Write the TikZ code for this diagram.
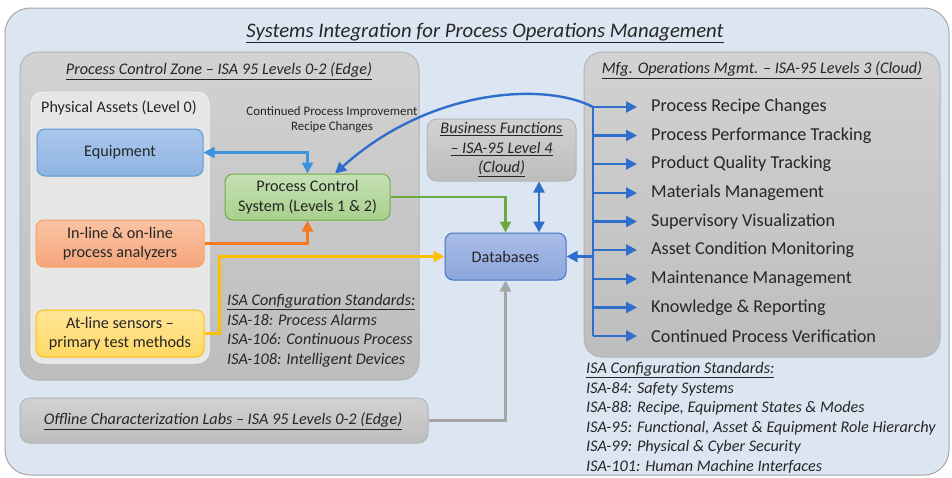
\documentclass[tikz,border=0pt]{standalone}
\usepackage{fontspec}
\setmainfont{Carlito}
\usetikzlibrary{arrows.meta,calc}

\definecolor{bgblue}{HTML}{DCE6F2}
\definecolor{frame}{HTML}{A6A6A6}
\definecolor{zonetop}{HTML}{D2D2D2}
\definecolor{zonebot}{HTML}{BDBDBD}
\definecolor{zoneedge}{HTML}{B4B4B4}
\definecolor{assetfill}{HTML}{E6E6E6}
\definecolor{assetedge}{HTML}{F2F2F2}
\definecolor{eqtop}{HTML}{ABC7EE}
\definecolor{eqbot}{HTML}{8EB3E2}
\definecolor{eqedge}{HTML}{5B9BD5}
\definecolor{ortop}{HTML}{FAC3A3}
\definecolor{orbot}{HTML}{F5A67C}
\definecolor{oredge}{HTML}{F4A264}
\definecolor{yetop}{HTML}{FFE597}
\definecolor{yebot}{HTML}{FFD966}
\definecolor{yeedge}{HTML}{FFC000}
\definecolor{grtop}{HTML}{C6E0B4}
\definecolor{grbot}{HTML}{A8D08D}
\definecolor{gredge}{HTML}{70AD47}
\definecolor{dbtop}{HTML}{A9BDE8}
\definecolor{dbbot}{HTML}{8CA5DC}
\definecolor{dbedge}{HTML}{4472C4}
\definecolor{busblue}{HTML}{2F6ECB}
\definecolor{eqarrow}{HTML}{3C94DC}
\definecolor{orarrow}{HTML}{F47A20}
\definecolor{yearrow}{HTML}{FFBE00}
\definecolor{grarrow}{HTML}{6AAA3E}
\definecolor{grayarrow}{HTML}{A6A6A6}
\definecolor{ink}{HTML}{262626}

\tikzset{
  panel/.style={draw=zoneedge, line width=1pt, top color=zonetop, bottom color=zonebot,
    rounded corners=18pt, inner sep=0pt},
  unit/.style={line width=1pt, rounded corners=8pt, align=center, text=ink,
    font=\fontsize{16.2}{19.5}\selectfont, inner sep=0pt},
  tip/.tip={Triangle[length=11pt,width=11pt]},
  conn/.style={line width=2.4pt, -tip},
  biconn/.style={line width=2.4pt, tip-tip},
  listitem/.style={anchor=west, inner sep=0pt, text=ink, font=\fontsize{18.2}{21}\selectfont},
  stdtext/.style={anchor=north west, inner sep=0pt, align=left, text=ink,
    font=\fontsize{16.2}{19.6}\selectfont\itshape},
  heading/.style={inner sep=0pt, text=ink, font=\fontsize{16.2}{19}\selectfont\itshape},
}

\begin{document}
\begin{tikzpicture}[x=1pt, y=-1pt]
\useasboundingbox (0,0) rectangle (952,477);

% outer frame
\node[draw=frame, line width=1pt, fill=bgblue, rounded corners=25pt,
  minimum width=944pt, minimum height=467pt] (outer) at (477,241.5) {};
\node[inner sep=0pt, text=ink, font=\fontsize{20.7}{24}\selectfont\itshape] (title) at (485,33)
  {\underline{Systems Integration for Process Operations Management}};

% process control zone
\node[panel, minimum width=399pt, minimum height=328pt] (zone) at (219.5,216) {};
\node[heading] (zonelbl) at (219,71) {\underline{Process Control Zone – ISA 95 Levels 0-2 (Edge)}};

% physical assets
\node[draw=assetedge, line width=1pt, fill=assetfill, rounded corners=12pt,
  minimum width=178pt, minimum height=271pt] (assets) at (120,227.5) {};
\node[inner sep=0pt, text=ink, font=\fontsize{16.1}{19}\selectfont] (assetlbl) at (119,108)
  {Physical Assets (Level 0)};

\node[unit, draw=eqedge, top color=eqtop, bottom color=eqbot,
  minimum width=166pt, minimum height=47pt] (equip) at (120,152.5) {Equipment};
\node[unit, draw=oredge, top color=ortop, bottom color=orbot,
  minimum width=168pt, minimum height=47pt] (inline) at (120,243.5)
  {In-line \& on-line\\process analyzers};
\node[unit, draw=yeedge, top color=yetop, bottom color=yebot,
  minimum width=168pt, minimum height=47pt] (atline) at (120,333.5)
  {At-line sensors –\\primary test methods};

% process control system
\node[unit, draw=gredge, top color=grtop, bottom color=grbot,
  minimum width=165pt, minimum height=46pt] (pcs) at (307.5,197)
  {Process Control\\System (Levels 1 \& 2)};
\node[inner sep=0pt, align=center, text=ink, font=\fontsize{12.9}{15}\selectfont] (cpi) at (332,119.5)
  {Continued Process Improvement\\Recipe Changes};

\node[stdtext] (stdleft) at (227,294)
  {\underline{ISA Configuration Standards:}\\
   ISA-18: Process Alarms\\
   ISA-106: Continuous Process\\
   ISA-108: Intelligent Devices};

% business functions and databases
\node[panel, rounded corners=10pt, align=center, text=ink,
  font=\fontsize{16.2}{19.5}\selectfont\itshape,
  minimum width=149pt, minimum height=62pt] (biz) at (501.5,150)
  {\underline{Business Functions}\\\underline{– ISA-95 Level 4}\\\underline{(Cloud)}};
\node[unit, draw=dbedge, top color=dbtop, bottom color=dbbot,
  minimum width=121pt, minimum height=47pt] (db) at (505.5,256.5) {Databases};

% manufacturing operations management
\node[panel, minimum width=356pt, minimum height=305pt] (mom) at (762,204.5) {};
\node[heading] (momlbl) at (762,70) {\underline{Mfg. Operations Mgmt. – ISA-95 Levels 3 (Cloud)}};

\foreach \name/\yy/\txt in {
  i1/107/{Process Recipe Changes},
  i2/135.5/{Process Performance Tracking},
  i3/164/{Product Quality Tracking},
  i4/193/{Materials Management},
  i5/221.5/{Supervisory Visualization},
  i6/250/{Asset Condition Monitoring},
  i7/279/{Maintenance Management},
  i8/307.5/{Knowledge \& Reporting},
  i9/336/{Continued Process Verification}} {
  \node[listitem] (\name) at (651,\yy) {\txt};
  \coordinate (tap\name) at (593,\yy);
  \draw[conn, busblue] (tap\name) -- ([xshift=-14pt]\name.west);
}
\draw[line width=2.4pt, busblue] (tapi1) -- (tapi9);

\node[stdtext] (stdright) at (586,362)
  {\underline{ISA Configuration Standards:}\\
   ISA-84: Safety Systems\\
   ISA-88: Recipe, Equipment States \& Modes\\
   ISA-95: Functional, Asset \& Equipment Role Hierarchy\\
   ISA-99: Physical \& Cyber Security\\
   ISA-101: Human Machine Interfaces};

% offline labs
\node[panel, rounded corners=10pt, minimum width=408pt, minimum height=45pt] (offline) at (224,420.5) {};
\node[heading] (offlbl) at (223,421) {\underline{Offline Characterization Labs – ISA 95 Levels 0-2 (Edge)}};

% connectors
\draw[biconn, eqarrow] (equip.east) -| (pcs.north);
\draw[conn, orarrow] (inline.east) -| (pcs.south);
\draw[conn, yearrow] (atline.east) -- ++(15,0) |- (db.west);
\draw[conn, grarrow] (pcs.east) -| (db.north);
\draw[biconn, busblue] (539,0 |- biz.south) -- (539,0 |- db.north);
\draw[conn, grayarrow] (offline.east) -| (db.south);
\coordinate (dbtap) at (593,0 |- db.east);
\draw[conn, busblue] (dbtap) -- (db.east);
\draw[conn, busblue] (tapi1) .. controls (545,82) and (430,88) .. ([xshift=27.5pt]pcs.north);
\end{tikzpicture}
\end{document}
